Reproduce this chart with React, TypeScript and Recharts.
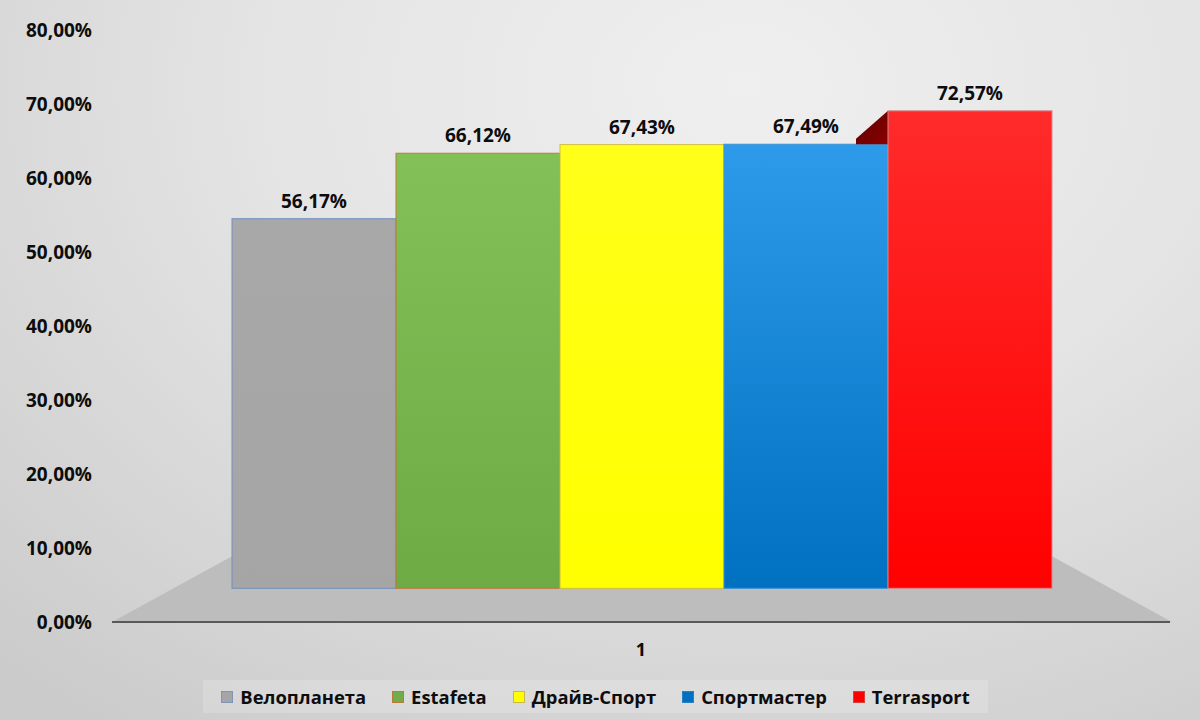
import React from 'react';
import { BarChart, Bar, XAxis, YAxis, LabelList, Legend } from 'recharts';

const categories = ['1'];
const seriesNames = ['Велопланета', 'Estafeta', 'Драйв-Спорт', 'Спортмастер', 'Terrasport'];
const velo = [56.17];
const estafeta = [66.12];
const drive = [67.43];
const sport = [67.49];
const terra = [72.57];
const yTicks = [0, 10, 20, 30, 40, 50, 60, 70, 80];

const seriesValues = [velo, estafeta, drive, sport, terra];
const seriesKeys = ['s0', 's1', 's2', 's3', 's4'];
const gradIds = ['gGray', 'gGreen', 'gYellow', 'gBlue', 'gRed'];
const strokes = ['#6f8fbf', '#c0783a', '#cdbd45', '#3b93d6', '#d08a8f'];
const legendFill = ['#a5a5a5', '#70ad47', '#ffff00', '#0070c0', '#ff0000'];
const legendStroke = ['#7d95b8', '#b9793e', '#c9b84a', '#2a7fc0', '#d84040'];

const barDomain = [-5.12, 84.85];
const CAT_GAP = 120;

const data = categories.map((c, i) => {
  const row: any = { name: c };
  seriesKeys.forEach((k, j) => { row[k] = seriesValues[j][i]; });
  return row;
});

const FONT = "'Open Sans', 'DejaVu Sans', sans-serif";

const fmtPct = (v: any) => Number(v).toFixed(2).replace('.', ',') + '%';

const makeShape = (idx: number) => (props: any) => {
  const { x, y, width, height } = props;
  if (x == null || y == null) return null;
  const value = seriesValues[idx][0];
  const ppu = height / value;
  const bottom = y + height;
  const parts: any[] = [];
  if (idx === 0) {
    const n = seriesKeys.length;
    const left = x - CAT_GAP;
    const right = x + n * width + CAT_GAP;
    const frontY = bottom + (-barDomain[0]) * ppu;
    const backY = bottom - 32;
    const backRight = x + n * width;
    parts.push(
      <polygon
        key="floor"
        points={`${left},${frontY} ${right},${frontY} ${backRight},${backY} ${x},${backY}`}
        fill="#bdbdbd"
      />
    );
  }
  if (idx === 4) {
    const sportTop = bottom - sport[0] * ppu;
    parts.push(
      <polygon
        key="side"
        points={`${x},${y} ${x - 32},${y + 28} ${x - 32},${sportTop} ${x},${sportTop}`}
        fill="url(#gSide)"
      />
    );
  }
  parts.push(
    <rect
      key="r"
      x={x}
      y={y}
      width={width}
      height={height}
      fill={`url(#${gradIds[idx]})`}
      stroke={strokes[idx]}
      strokeWidth={1}
    />
  );
  return <g>{parts}</g>;
};

const shapes = seriesKeys.map((_, i) => makeShape(i));

const LegendContent = () => (
  <div
    style={{
      width: '100%',
      height: '100%',
      display: 'flex',
      alignItems: 'center',
      justifyContent: 'center',
      background: 'rgba(255,255,255,0.18)',
      boxSizing: 'border-box',
      fontFamily: FONT,
      fontWeight: 700,
      fontSize: 18.4,
      color: '#0d0d0d',
      gap: 26,
    }}
  >
    {seriesNames.map((n, i) => (
      <div key={n} style={{ display: 'flex', alignItems: 'center' }}>
        <span
          style={{
            display: 'inline-block',
            width: 10,
            height: 10,
            background: legendFill[i],
            border: `1px solid ${legendStroke[i]}`,
            marginRight: 7,
          }}
        />
        <span style={{ lineHeight: '20px' }}>{n}</span>
      </div>
    ))}
  </div>
);

export default function App() {
  return (
    <div
      style={{
        position: 'absolute',
        left: 0,
        top: 0,
        width: 1200,
        height: 720,
        background:
          'radial-gradient(ellipse 90% 110% at 62% 12%, #efefef 0%, #e4e4e4 45%, #d2d2d2 85%, #cbcbcb 100%)',
        fontFamily: FONT,
      }}
    >
      <BarChart
        width={1200}
        height={720}
        data={data}
        margin={{ top: 30, right: 30, left: 0, bottom: 58 }}
        barGap={0}
        barCategoryGap={CAT_GAP}
        style={{ fontFamily: FONT }}
      >
        <defs>
          <linearGradient id="gGray" x1="0" y1="0" x2="0" y2="1">
            <stop offset="0%" stopColor="#a8a8a8" />
            <stop offset="100%" stopColor="#a5a5a5" />
          </linearGradient>
          <linearGradient id="gGreen" x1="0" y1="0" x2="0" y2="1">
            <stop offset="0%" stopColor="#83c057" />
            <stop offset="100%" stopColor="#6fab45" />
          </linearGradient>
          <linearGradient id="gYellow" x1="0" y1="0" x2="0" y2="1">
            <stop offset="0%" stopColor="#ffff1a" />
            <stop offset="100%" stopColor="#ffff00" />
          </linearGradient>
          <linearGradient id="gBlue" x1="0" y1="0" x2="0" y2="1">
            <stop offset="0%" stopColor="#2d9be9" />
            <stop offset="100%" stopColor="#0070c0" />
          </linearGradient>
          <linearGradient id="gRed" x1="0" y1="0" x2="0" y2="1">
            <stop offset="0%" stopColor="#ff2b2b" />
            <stop offset="100%" stopColor="#ff0000" />
          </linearGradient>
          <linearGradient id="gSide" x1="0" y1="0" x2="1" y2="1">
            <stop offset="0%" stopColor="#5c0000" />
            <stop offset="100%" stopColor="#8a0000" />
          </linearGradient>
        </defs>
        <YAxis yAxisId="b" type="number" domain={barDomain} allowDataOverflow hide width={0} />
        <YAxis
          yAxisId="main"
          type="number"
          domain={[0, 80]}
          ticks={yTicks}
          allowDataOverflow
          width={112}
          axisLine={false}
          tickLine={false}
          tickSize={0}
          tickMargin={20}
          tickFormatter={fmtPct}
          tick={{ fill: '#0d0d0d', fontSize: 19, fontWeight: 700, fontFamily: FONT }}
        />
        {seriesKeys.map((k, i) => (
          <Bar
            key={k}
            dataKey={k}
            name={seriesNames[i]}
            yAxisId="b"
            isAnimationActive={false}
            shape={shapes[i]}
            fill={legendFill[i]}
          >
            <LabelList
              dataKey={k}
              position="top"
              offset={11}
              formatter={fmtPct}
              fill="#0d0d0d"
              fontSize={19}
              fontWeight={700}
              fontFamily={FONT}
            />
          </Bar>
        ))}
        <XAxis
          dataKey="name"
          height={40}
          axisLine={{ stroke: '#595959', strokeWidth: 2 }}
          tickLine={false}
          tickSize={0}
          tickMargin={21}
          tick={{ fill: '#0d0d0d', fontSize: 18, fontWeight: 700, fontFamily: FONT }}
        />
        <Legend
          verticalAlign="middle"
          align="center"
          layout="horizontal"
          wrapperStyle={{ top: 680, left: 203, width: 785, height: 33 }}
          content={LegendContent}
        />
      </BarChart>
    </div>
  );
}
